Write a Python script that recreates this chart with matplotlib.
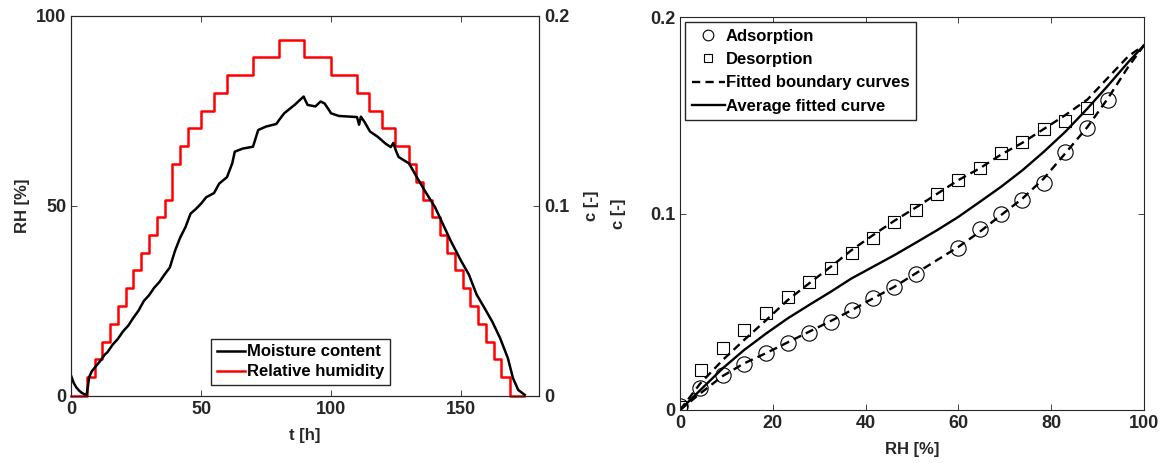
import matplotlib
matplotlib.use("Agg")
import matplotlib.pyplot as plt

plt.rcParams['font.family'] = ['Liberation Sans', 'DejaVu Sans']
plt.rcParams['font.weight'] = 'bold'
plt.rcParams['axes.labelweight'] = 'bold'
plt.rcParams['font.size'] = 12

# --- left panel: RH steps (%) and moisture content c [-] versus time [h]
rh_t = [0, 6.2, 9.1, 12, 15.1, 18, 21, 24, 27, 30, 33, 36.1, 39, 41.8, 45, 50,
        55, 60, 70, 80, 89.7, 99.9, 110.1, 114.7, 119.8, 124.8, 129.9, 132.6,
        135.5, 138.9, 141.8, 144.6, 147.7, 150.6, 153.5, 156.5, 159.7, 162.8,
        165.5, 168.8, 174.3]
rh_level = [0, 4.9, 9.7, 14.3, 19.0, 23.6, 28.3, 33.1, 37.7, 42.3, 47.0, 51.7,
            61.1, 65.8, 70.4, 75.0, 79.7, 84.4, 89.1, 93.6, 89.1, 84.4, 79.7,
            75.0, 70.4, 65.8, 61.1, 56.4, 51.7, 47.0, 42.3, 37.7, 33.1, 28.3,
            23.6, 19.0, 14.3, 9.7, 4.9, 0, 0]

mc_t = [0, 1, 2, 3, 4, 5, 6, 6.5, 7, 8, 10, 11, 13, 14, 16, 18, 20, 22, 24, 26,
        28, 30, 32, 34, 36, 38, 40, 42, 44, 46, 48, 50, 52, 55, 57, 60, 62, 63,
        66, 70, 72, 75, 79, 80, 82, 86, 88.5, 89.5, 90, 91, 94, 96, 97.5, 99,
        100, 103, 110, 110.8, 111.5, 113, 115, 118, 121, 123, 124, 125, 126,
        130, 133, 136, 140, 143, 146, 150, 153, 156, 159, 162, 165, 168, 170,
        172, 174.5]
mc_c = [0.0108, 0.0070, 0.0046, 0.0030, 0.0018, 0.0010, 0.0006, 0.0050, 0.0100,
        0.0130, 0.0164, 0.0180, 0.0218, 0.0230, 0.0270, 0.0300, 0.0340, 0.0370,
        0.0412, 0.0450, 0.0500, 0.0530, 0.0570, 0.0600, 0.0640, 0.0676, 0.0764,
        0.0834, 0.0888, 0.0960, 0.0984, 0.1012, 0.1046, 0.1068, 0.1118, 0.1152,
        0.1224, 0.1286, 0.1302, 0.1312, 0.1400, 0.1418, 0.1432, 0.1452, 0.1488,
        0.1532, 0.1564, 0.1576, 0.1560, 0.1532, 0.1524, 0.1550, 0.1540, 0.1510,
        0.1488, 0.1474, 0.1468, 0.1428, 0.1470, 0.1440, 0.1392, 0.1364, 0.1328,
        0.1310, 0.1332, 0.1290, 0.1258, 0.1224, 0.1152, 0.1082, 0.0994, 0.0906,
        0.0818, 0.0712, 0.0640, 0.0534, 0.0464, 0.0392, 0.0306, 0.0200, 0.0094,
        0.0032, 0.0006]

# --- right panel: sorption isotherm
ads_rh = [0, 4.4, 9.2, 13.8, 18.6, 23.2, 27.8, 32.5, 37.0, 41.6, 46.2, 50.8,
          60.0, 64.6, 69.2, 73.8, 78.4, 83.0, 87.8, 92.2]
ads_c = [0.002, 0.0114, 0.0178, 0.0232, 0.0288, 0.0339, 0.0393, 0.0449, 0.0508,
         0.0568, 0.0627, 0.0692, 0.0822, 0.0919, 0.1000, 0.1068, 0.1156, 0.1314,
         0.1437, 0.1576]
des_rh = [0.2, 4.6, 9.2, 13.8, 18.5, 23.2, 27.8, 32.5, 37.0, 41.6, 46.2, 50.8,
          55.4, 60.0, 64.6, 69.2, 73.8, 78.4, 83.0, 87.8]
des_c = [0.0017, 0.0203, 0.0317, 0.0407, 0.0495, 0.0576, 0.0653, 0.0724, 0.0797,
         0.0873, 0.0958, 0.1020, 0.1098, 0.1173, 0.1232, 0.1308, 0.1364, 0.1429,
         0.1471, 0.1539]

fit_rh = [0, 4.4, 9.2, 13.8, 18.6, 23.2, 27.8, 32.5, 37.0, 41.6, 46.2, 50.8,
          55.4, 60.0, 64.6, 69.2, 73.8, 78.4, 83.0, 87.8, 92.2, 96.6, 100]
fit_des = [0, 0.0136, 0.0254, 0.0356, 0.0458, 0.0559, 0.0644, 0.0729, 0.0814,
           0.0890, 0.0963, 0.1030, 0.1100, 0.1170, 0.1230, 0.1300, 0.1360,
           0.1430, 0.1500, 0.1580, 0.1690, 0.1800, 0.1856]
fit_ads = [0, 0.0085, 0.0173, 0.0237, 0.0290, 0.0344, 0.0398, 0.0453, 0.0508,
           0.0568, 0.0627, 0.0695, 0.0763, 0.0830, 0.0907, 0.0992, 0.1076,
           0.1178, 0.1305, 0.1440, 0.1585, 0.1746, 0.1856]
fit_avg = [0, 0.0102, 0.0212, 0.0305, 0.0390, 0.0466, 0.0534, 0.0602, 0.0670,
           0.0729, 0.0788, 0.0851, 0.0915, 0.0983, 0.1059, 0.1136, 0.1220,
           0.1314, 0.1415, 0.1534, 0.1650, 0.1770, 0.1856]

ink = '#262626'


def style(ax, top=True, right=True):
    for s in ax.spines.values():
        s.set_color(ink)
        s.set_linewidth(0.8)
    ax.tick_params(direction='in', length=4, width=0.6, colors=ink,
                   top=top, right=right, labelsize=13)


fig = plt.figure(figsize=(11.68, 4.63), dpi=100)

# left panel
ax1 = fig.add_axes([71 / 1168, 1 - 396 / 463, 468 / 1168, 380 / 463])
ax2 = ax1.twinx()
l_rh, = ax1.step(rh_t, rh_level, where='post', color='#ff0000', lw=1.8,
                 clip_on=False)
l_mc, = ax2.plot(mc_t, mc_c, color='black', lw=1.8)
ax1.set_xlim(0, 180)
ax1.set_ylim(0, 100)
ax2.set_ylim(0, 0.2)
ax1.set_xticks([0, 50, 100, 150])
ax1.set_yticks([0, 50, 100])
ax2.set_yticks([0, 0.1, 0.2])
ax2.set_yticklabels(['0', '0.1', '0.2'])
style(ax1, top=True, right=False)
style(ax2, top=False, right=True)
ax1.set_xlabel('t [h]', color=ink, labelpad=7)
ax1.set_ylabel('RH [%]', color=ink, labelpad=4)
ax2.set_ylabel('c [-]', color=ink, labelpad=11)
ax2.legend([l_mc, l_rh], ['Moisture content', 'Relative humidity'],
           loc='lower center', bbox_to_anchor=(0.49, 0.0), fontsize=12,
           fancybox=False, framealpha=1, edgecolor=ink, handlelength=1.7,
           handletextpad=0.1, borderpad=0.35, labelspacing=0.3,
           borderaxespad=0.65)

# right panel
ax3 = fig.add_axes([680 / 1168, 1 - 410 / 463, 464 / 1168, 393 / 463])
ax3.plot(ads_rh, ads_c, 'o', mfc='none', mec='black', ms=11, mew=0.8,
         label='Adsorption')
ax3.plot(des_rh, des_c, 's', mfc='none', mec='black', ms=9, mew=0.8,
         label='Desorption')
ax3.plot(fit_rh, fit_des, color='black', lw=1.7, dashes=(3.5, 2.2),
         label='Fitted boundary curves')
ax3.plot(fit_rh, fit_ads, color='black', lw=1.7, dashes=(3.5, 2.2))
ax3.plot(fit_rh, fit_avg, color='black', lw=1.7, label='Average fitted curve')
ax3.set_xlim(0, 100)
ax3.set_ylim(0, 0.2)
ax3.set_xticks([0, 20, 40, 60, 80, 100])
ax3.set_yticks([0, 0.1, 0.2])
ax3.set_yticklabels(['0', '0.1', '0.2'])
style(ax3)
ax3.set_xlabel('RH [%]', color=ink, labelpad=7)
ax3.set_ylabel('c [-]', color=ink, labelpad=17)
ax3.legend(loc='upper left', fontsize=12, fancybox=False,
           framealpha=1, edgecolor=ink, handlelength=2.0,
           handletextpad=0.05, borderpad=0.4, labelspacing=0.5,
           borderaxespad=0.3, markerscale=0.7)

fig.savefig('out.png', dpi=100)
